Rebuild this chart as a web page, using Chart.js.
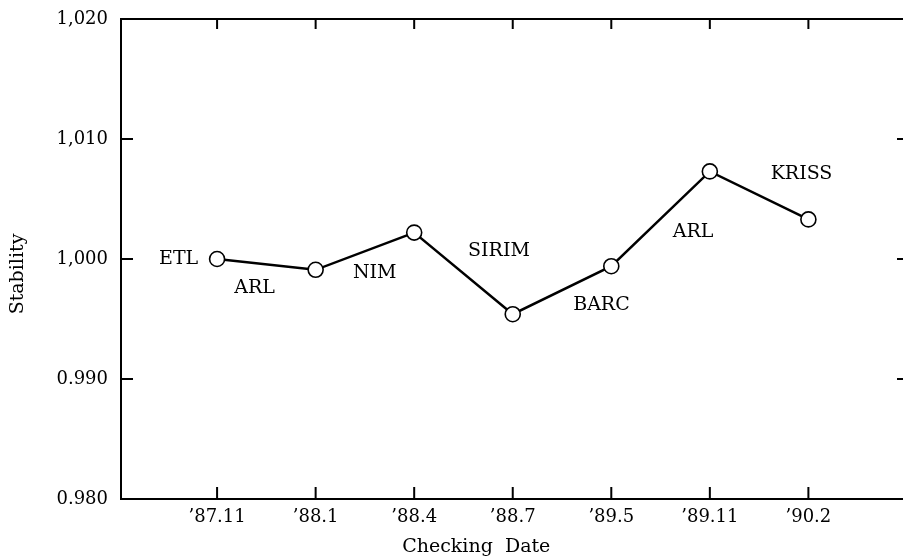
<!DOCTYPE html>
<html>
<head>
<meta charset="utf-8">
<script src="https://cdn.jsdelivr.net/npm/chart.js@4/dist/chart.umd.min.js"></script>
<style>
  html, body { margin: 0; padding: 0; background: #fff; }
  #wrap { width: 903px; height: 557px; position: relative; }
</style>
</head>
<body>
<div id="wrap"><canvas id="chart"></canvas></div>
<script>
// checking dates (x categories) and measured stability
const dates = ['\u201987.11', '\u201988.1', '\u201988.4', '\u201988.7', '\u201989.5', '\u201989.11', '\u201990.2'];
const stability = [1.0000, 0.9991, 1.0022, 0.9954, 0.9994, 1.0073, 1.0033];

// laboratory labels, placed in data units (x = date index, y = stability)
const labNames = ['ETL', 'ARL', 'NIM', 'SIRIM', 'BARC', 'ARL', 'KRISS'];
const labX = [-0.39, 0.38, 1.60, 2.86, 3.90, 4.83, 5.93];
const labY = [1.0000, 0.99758, 0.99883, 1.00067, 0.99617, 1.00225, 1.00708];

const yTicks = [0.98, 0.99, 1.00, 1.01, 1.02];
const yTickLabels = ['0.980', '0.990', '1,000', '1,010', '1,020'];

const FONT = "'DejaVu Serif', 'Liberation Serif', serif";

// frame with inward ticks, lab labels and axis titles
const framePlugin = {
  id: 'frame',
  beforeDatasetsDraw(chart) {
    const {ctx, chartArea: a, scales: {x, y}} = chart;
    ctx.save();
    ctx.strokeStyle = '#000';
    ctx.lineWidth = 2;
    ctx.beginPath();
    ctx.moveTo(a.right, a.top);
    ctx.lineTo(a.left, a.top);
    ctx.lineTo(a.left, a.bottom);
    ctx.lineTo(a.right, a.bottom);
    ctx.stroke();

    ctx.beginPath();
    dates.forEach((d, i) => {
      const px = x.getPixelForValue(i);
      ctx.moveTo(px, a.bottom);
      ctx.lineTo(px, a.bottom - 12);
      ctx.moveTo(px, a.top);
      ctx.lineTo(px, a.top + 10);
    });
    yTicks.slice(1, -1).forEach(v => {
      const py = y.getPixelForValue(v);
      ctx.moveTo(a.left, py);
      ctx.lineTo(a.left + 12, py);
      ctx.moveTo(a.right, py);
      ctx.lineTo(a.right - 6, py);
    });
    ctx.stroke();
    ctx.restore();
  },
  afterDatasetsDraw(chart) {
    const {ctx, scales: {x, y}} = chart;
    ctx.save();
    ctx.fillStyle = '#000';
    ctx.font = '19px ' + FONT;
    ctx.textAlign = 'center';
    ctx.textBaseline = 'middle';
    labNames.forEach((name, i) => {
      ctx.fillText(name, x.getPixelForValue(labX[i]), y.getPixelForValue(labY[i]));
    });
    ctx.fillText('Checking  Date', x.getPixelForValue(2.63), 547);
    ctx.translate(18, y.getPixelForValue(0.99875));
    ctx.rotate(-Math.PI / 2);
    ctx.fillText('Stability', 0, 0);
    ctx.restore();
  }
};

new Chart(document.getElementById('chart'), {
  type: 'line',
  data: {
    datasets: [{
      data: stability.map((v, i) => ({x: i, y: v})),
      borderColor: '#000',
      borderWidth: 2.5,
      pointRadius: 7.5,
      pointBorderWidth: 1.6,
      pointBorderColor: '#000',
      pointBackgroundColor: '#fff',
      tension: 0
    }]
  },
  options: {
    responsive: true,
    maintainAspectRatio: false,
    animation: false,
    events: [],
    layout: {autoPadding: false, padding: {top: 19, right: 0, left: 0, bottom: 0}},
    plugins: {legend: {display: false}, tooltip: {enabled: false}},
    scales: {
      x: {
        type: 'linear',
        min: -0.975,
        max: 6.96,
        grid: {display: false, drawTicks: false},
        border: {display: false},
        afterBuildTicks: s => { s.ticks = dates.map((d, i) => ({value: i})); },
        afterFit: s => { s.height = 58; s.paddingLeft = 0; s.paddingRight = 0; },
        ticks: {
          padding: 8,
          color: '#000',
          font: {family: FONT, size: 18},
          maxRotation: 0,
          autoSkip: false,
          callback: (v) => dates[Math.round(v)]
        }
      },
      y: {
        min: 0.98,
        max: 1.02,
        grid: {display: false, drawTicks: false},
        border: {display: false},
        afterBuildTicks: s => { s.ticks = yTicks.map(v => ({value: v})); },
        afterFit: s => { s.width = 121; s.paddingTop = 0; s.paddingBottom = 0; },
        ticks: {
          padding: 13,
          color: '#000',
          font: {family: FONT, size: 18},
          callback: (v, i) => yTickLabels[i]
        }
      }
    }
  },
  plugins: [framePlugin]
});
</script>
</body>
</html>
